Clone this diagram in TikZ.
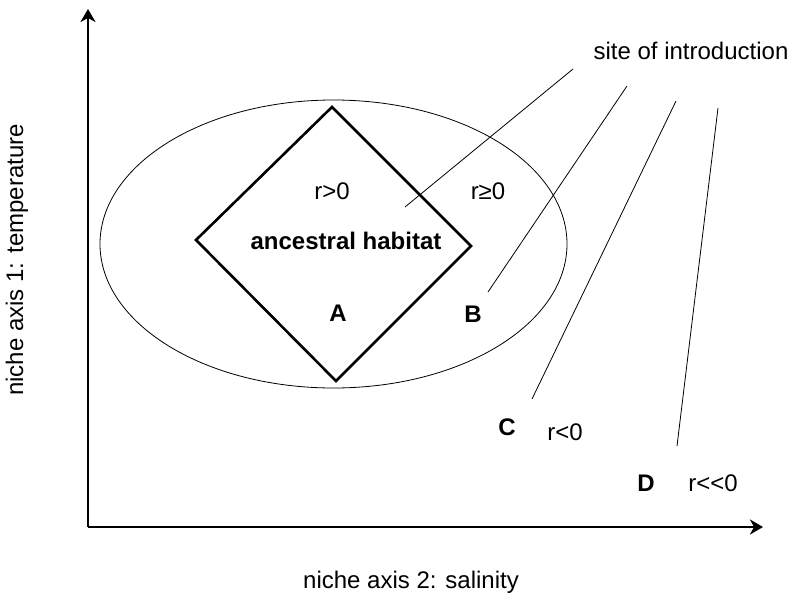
\documentclass[tikz,border=0pt]{standalone}
\usepackage{fontspec}
\setmainfont{Liberation Sans}[Ligatures=NoCommon]
\usetikzlibrary{arrows.meta}
\begin{document}
\begin{tikzpicture}[x=1pt,y=-1pt,
  lbl/.style={font=\fontsize{24}{28}\selectfont, inner sep=0pt},
  blbl/.style={font=\fontsize{24}{28}\selectfont\bfseries, inner sep=0pt},
  axis/.style={line width=2.6pt, -{Stealth[length=13pt,width=15pt,inset=4pt]}},
  thin/.style={line width=0.8pt},
  thick/.style={line width=2.6pt, line join=miter}]
\useasboundingbox (0,0) rectangle (799,596);
% axes
\coordinate (O) at (88,527);
\coordinate (ytip) at (88,9);
\coordinate (xtip) at (763,527);
\draw[axis] (O) -- (ytip);
\draw[axis] (O) -- (xtip);
% ellipse
\draw[thin] (333.5,244) ellipse [x radius=233.5pt, y radius=144pt];
% diamond
\coordinate (dt) at (332,107);
\coordinate (dl) at (196,240);
\coordinate (dr) at (471,246);
\coordinate (db) at (336,381);
\draw[thick] (dt) -- (dr) -- (db) -- (dl) -- cycle;
% labels
\node[lbl] (rg0) at (332,191) {r>0};
\node[lbl] (rge0) at (488,191) {r≥0};
\node[blbl] (anc) at (346,241) {ancestral habitat};
\node[blbl] (A) at (338,313) {A};
\node[blbl] (B) at (473,314) {B};
\node[blbl] (C) at (507,427) {C};
\node[lbl] (rl0) at (565,432) {r<0};
\node[blbl] (D) at (646,483) {D};
\node[lbl] (rll0) at (713,483) {r<{}<0};
\node[lbl] (site) at (691,51) {site of introduction};
\node[lbl] (xlab) at (411,582) {niche axis 2: salinity};
\node[lbl, rotate=90] (ylab) at (17,260) {niche axis 1: temperature};
% pointer lines
\coordinate (s1) at (573,69);
\coordinate (e1) at (405,207);
\coordinate (s2) at (627,86);
\coordinate (e2) at (488,292);
\coordinate (s3) at (676,101);
\coordinate (e3) at (532,399);
\coordinate (s4) at (718,108);
\coordinate (e4) at (677,446);
\draw[thin] (s1) -- (e1);
\draw[thin] (s2) -- (e2);
\draw[thin] (s3) -- (e3);
\draw[thin] (s4) -- (e4);
\end{tikzpicture}
\end{document}
